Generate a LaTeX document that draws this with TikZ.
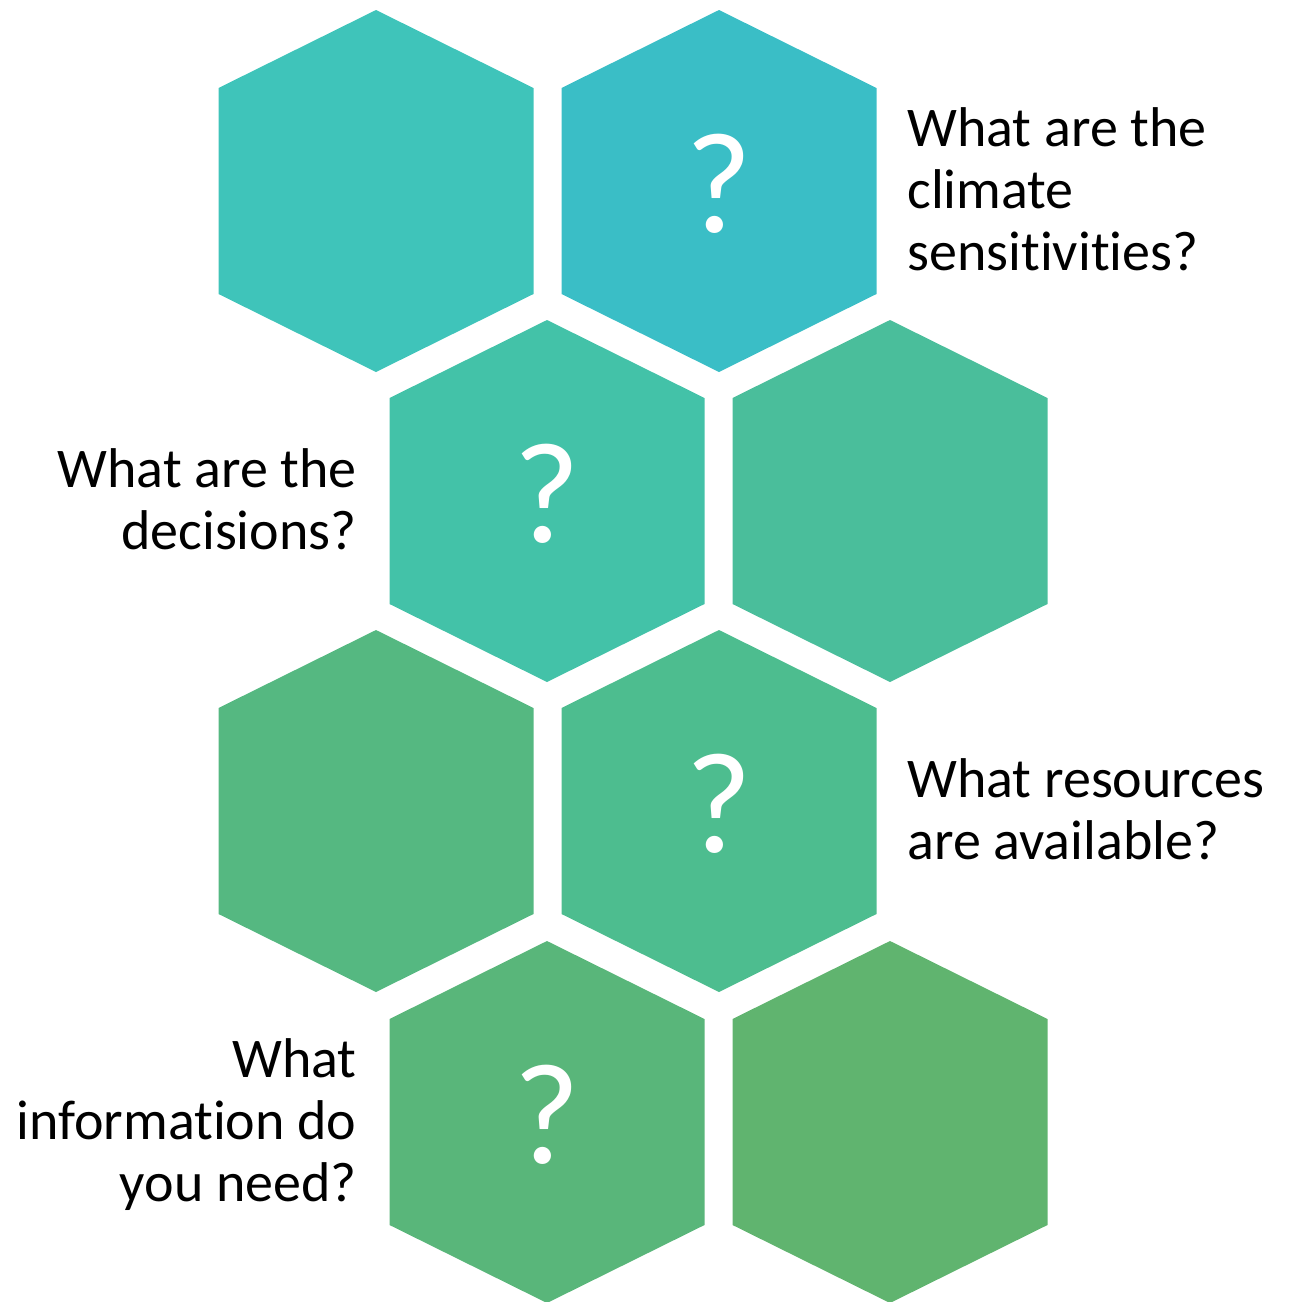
\documentclass[tikz,border=0pt]{standalone}
\usepackage{fontspec}
\setmainfont{Carlito}[Ligatures=NoCommon]
\usetikzlibrary{positioning}
\definecolor{hexA}{HTML}{3FC4BA}
\definecolor{hexB}{HTML}{3ABEC6}
\definecolor{hexC}{HTML}{43C2A8}
\definecolor{hexD}{HTML}{4ABE9B}
\definecolor{hexE}{HTML}{55B881}
\definecolor{hexF}{HTML}{4DBD8F}
\definecolor{hexG}{HTML}{59B67A}
\definecolor{hexH}{HTML}{60B46F}
\tikzset{
  qmark/.style={text=white, font=\fontsize{72}{72}\selectfont, inner sep=0pt, anchor=base},
  note/.style={font=\fontsize{28}{31}\selectfont, inner sep=0pt}
}

\begin{document}
\begin{tikzpicture}[x={(0.5pt,0)}, y={(0,-0.5pt)}]
  \useasboundingbox (0,0) rectangle (1294,1302);
  \foreach \cx/\cy/\col in {376/190/hexA, 719/190/hexB, 547/500/hexC, 890/500/hexD,
                            376/810/hexE, 719/810/hexF, 547/1121/hexG, 890/1121/hexH}{
    \fill[\col] (\cx,\cy-180) -- ++(157.5,78) -- ++(0,206) -- ++(-157.5,78) -- ++(-157.5,-78) -- ++(0,-206) -- cycle;}
  \node[qmark] (q1) at (719,232) {?};
  \node[qmark] (q2) at (547,542) {?};
  \node[qmark] (q3) at (719,852) {?};
  \node[qmark] (q4) at (547,1163) {?};
  \node[note, align=left, anchor=north west] (t1) at (907,107) {What are the\\climate\\sensitivities?};
  \node[note, align=right, anchor=north east] (t2) at (357,448) {What are the\\decisions?};
  \node[note, align=left, anchor=north west] (t3) at (907,758) {What resources\\are available?};
  \node[note, align=right, anchor=north east] (t4) at (357,1038) {What\\information do\\you need?};
\end{tikzpicture}
\end{document}
